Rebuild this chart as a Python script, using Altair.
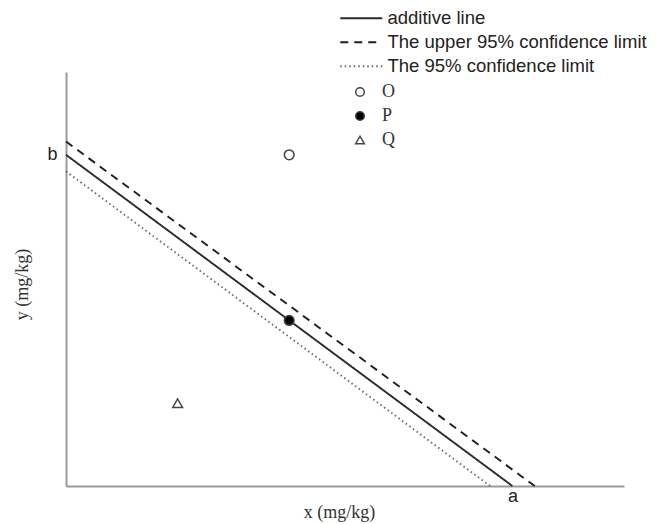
import altair as alt
import pandas as pd

# ---- data ----
series_names = ["additive line", "The upper 95% confidence limit", "The 95% confidence limit"]
line_x_start = [0.0, 0.0, 0.0]
line_y_start = [10.0, 10.4, 9.5]
line_x_end = [10.0, 10.5, 9.5]
line_y_end = [0.0, 0.0, 0.0]
line_colors = ["#2b2b2b", "#1e1e1e", "#6a6a6a"]
line_dashes = [[1, 0], [8, 6], [1.5, 3]]

point_names = ["O", "P", "Q"]
point_x = [5.0, 5.0, 2.5]
point_y = [10.0, 5.0, 2.5]
point_shapes = ["circle", "circle", "triangle-up"]
point_fills = ["white", "black", "white"]

x_tick_values = [10]
x_tick_labels = ["a"]
y_tick_values = [10]
y_tick_labels = ["b"]

line_df = pd.DataFrame({
    "series": series_names,
    "x0": line_x_start, "y0": line_y_start,
    "x1": line_x_end, "y1": line_y_end,
})
point_df = pd.DataFrame({"name": point_names, "x": point_x, "y": point_y})


def label_expr(values, labels):
    expr = "''"
    for v, l in zip(values, labels):
        expr = f"datum.value == {v} ? '{l}' : ({expr})"
    return expr


x_scale = alt.Scale(domain=[0, 12.5], nice=False, zero=False)
y_scale = alt.Scale(domain=[0, 12.5], nice=False, zero=False)

x_axis = alt.Axis(
    values=x_tick_values, labelExpr=label_expr(x_tick_values, x_tick_labels),
    ticks=False, grid=False, domainColor="#9a9a9a", domainWidth=2,
    labelFont="Liberation Sans", labelFontSize=18, labelColor="#222",
    labelPadding=1, title="x (mg/kg)", titleFont="Liberation Serif",
    titleFontSize=18, titleFontWeight="normal", titleColor="#333",
    titleX=273, titleY=31, titleBaseline="alphabetic", titleAlign="center",
)
y_axis = alt.Axis(
    values=y_tick_values, labelExpr=label_expr(y_tick_values, y_tick_labels),
    ticks=False, grid=False, domainColor="#9a9a9a", domainWidth=2,
    labelFont="Liberation Sans", labelFontSize=18, labelColor="#222",
    labelPadding=9, title="y (mg/kg)", titleFont="Liberation Serif",
    titleFontSize=18, titleFontWeight="normal", titleColor="#333",
    titleX=-44, titleY=212, titleAngle=270, titleAlign="center",
    titleBaseline="middle",
)

line_legend = alt.Legend(
    title=None, orient="none", legendX=286, legendY=-63, padding=0,
    symbolType="M-3,0H3", symbolSize=196, symbolStrokeWidth=2,
    labelFont="Liberation Sans", labelFontSize=18.5, labelColor="#222",
    labelOffset=17, rowPadding=5, labelLimit=0,
)
point_legend = alt.Legend(
    title=None, orient="none", legendX=285, legendY=11, padding=0,
    symbolSize=75, symbolStrokeWidth=1.5,
    labelFont="Liberation Serif", labelFontSize=18, labelColor="#333",
    labelOffset=13, rowPadding=6, labelLimit=0,
)

lines = alt.Chart(line_df).mark_rule(strokeWidth=1.9, strokeCap="butt").encode(
    x=alt.X("x0:Q", scale=x_scale, axis=x_axis),
    y=alt.Y("y0:Q", scale=y_scale, axis=y_axis),
    x2="x1:Q",
    y2="y1:Q",
    color=alt.Color("series:N", scale=alt.Scale(domain=series_names, range=line_colors),
                    legend=line_legend),
    strokeDash=alt.StrokeDash("series:N", scale=alt.Scale(domain=series_names, range=line_dashes),
                              legend=line_legend),
)

points = alt.Chart(point_df).mark_point(filled=False, color="#444", strokeWidth=1.5,
                                        opacity=1, size=95).encode(
    x=alt.X("x:Q", scale=x_scale),
    y=alt.Y("y:Q", scale=y_scale),
    shape=alt.Shape("name:N", scale=alt.Scale(domain=point_names, range=point_shapes),
                    legend=point_legend),
    fill=alt.Fill("name:N", scale=alt.Scale(domain=point_names, range=point_fills),
                  legend=point_legend),
)

chart = alt.layer(lines, points).properties(
    width=558, height=414,
    autosize=alt.AutoSizeParams(type="none"),
    padding={"left": 58, "top": 64, "right": 30, "bottom": 36},
).configure_view(stroke=None)

chart.save("out.html", embed_options={"renderer": "svg", "actions": False})
